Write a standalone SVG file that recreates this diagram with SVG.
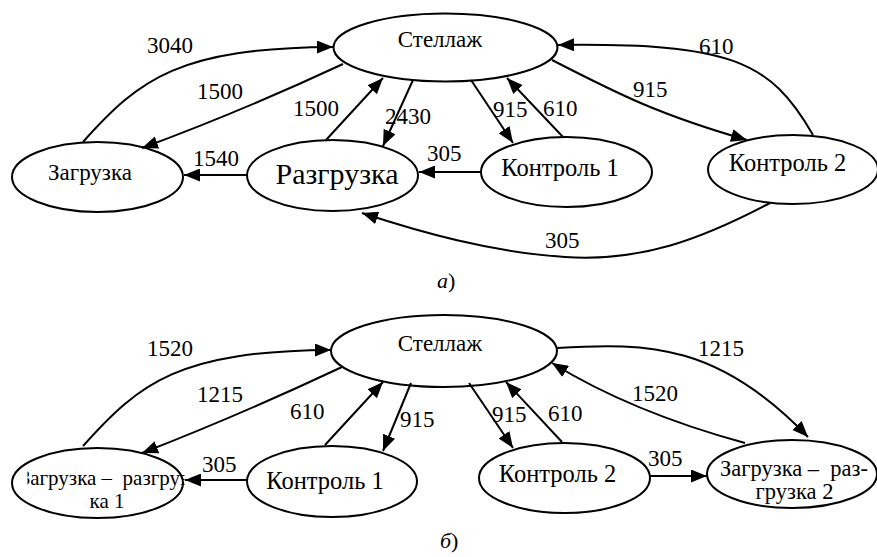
<svg xmlns="http://www.w3.org/2000/svg" width="877" height="557" viewBox="0 0 877 557">
<style>
.n{fill:#fff;stroke:#000;stroke-width:2}
.t{font-family:'Liberation Serif','DejaVu Serif',serif;font-size:23px;fill:#000;text-anchor:middle;white-space:pre}
.k{font-size:24.5px}
.l{font-family:'Liberation Serif','DejaVu Serif',serif;font-size:23px;fill:#000}
.e{fill:none;stroke:#000;stroke-width:2;marker-end:url(#ah)}
.c{font-family:'Liberation Serif','DejaVu Serif',serif;font-size:22px;fill:#000}
</style>
<defs>
<marker id="ah" markerUnits="userSpaceOnUse" markerWidth="17" markerHeight="13" refX="16" refY="6.5" orient="auto">
<path d="M0,0 L16,6.5 L0,13 Z" fill="#000"/>
</marker>
<clipPath id="cl1"><rect x="27.5" y="440" width="157" height="80"/></clipPath>
</defs>
<rect width="877" height="557" fill="#fff"/>

<g id="nodes-a">
<g id="a-stellazh"><ellipse class="n" cx="445.5" cy="47.5" rx="112" ry="34"/><text class="t" x="440" y="47">Стеллаж</text></g>
<g id="a-zagruzka"><ellipse class="n" cx="97.5" cy="177" rx="85.5" ry="35"/><text class="t" x="90" y="180">Загрузка</text></g>
<g id="a-razgruzka"><ellipse class="n" cx="332.5" cy="175.5" rx="85.5" ry="35.5"/><text class="t" x="337" y="184" style="font-size:30px">Разгрузка</text></g>
<g id="a-kontrol1"><ellipse class="n" cx="566.5" cy="172" rx="85.5" ry="35"/><text class="t k" x="560" y="176">Контроль 1</text></g>
<g id="a-kontrol2"><ellipse class="n" cx="793" cy="169.5" rx="85" ry="34.5"/><text class="t k" x="787.5" y="171">Контроль 2</text></g>
</g>

<g id="edges-a">
<path class="e" d="M83,142 C140,78 180,48 333,47"/>
<path class="e" d="M343,64 Q240,112 142,148"/>
<path class="e" d="M326,140 L383,78"/>
<path class="e" d="M413,80 L383,146"/>
<path class="e" d="M247,175 L184,175"/>
<path class="e" d="M481,172 L419,172"/>
<path class="e" d="M471,80 L513,143"/>
<path class="e" d="M563,137 L507,78"/>
<path class="e" d="M552,60 C620,95 660,115 747,140"/>
<path class="e" d="M813,135 C770,60 730,43 558,45"/>
<path class="e" d="M770,203 C700,240 640,262 565,257 C490,252 420,232 362,213"/>
</g>
<g id="labels-a">
<text class="l" x="147" y="53">3040</text>
<text class="l" x="197" y="99">1500</text>
<text class="l" x="293" y="116">1500</text>
<text class="l" x="385" y="124">2430</text>
<text class="l" x="193" y="166">1540</text>
<text class="l" x="427" y="161">305</text>
<text class="l" x="493" y="117">915</text>
<text class="l" x="543" y="116">610</text>
<text class="l" x="633" y="97">915</text>
<text class="l" x="699" y="54">610</text>
<text class="l" x="545" y="248">305</text>
</g>
<text class="c" x="437" y="288"><tspan font-style="italic">а</tspan>)</text>

<g id="nodes-b">
<g id="b-stellazh"><ellipse class="n" cx="444" cy="351" rx="113" ry="36"/><text class="t" x="440" y="351">Стеллаж</text></g>
<g id="b-zr1"><ellipse class="n" cx="97.5" cy="483" rx="85.5" ry="35"/><text class="t" clip-path="url(#cl1)" x="104" y="485" style="font-size:21px" xml:space="preserve">Загрузка –  разгруз</text><text class="t" x="107" y="508" style="font-size:21px">ка 1</text></g>
<g id="b-kontrol1"><ellipse class="n" cx="332" cy="481.5" rx="85" ry="35.5"/><text class="t k" x="325" y="489">Контроль 1</text></g>
<g id="b-kontrol2"><ellipse class="n" cx="564.5" cy="478" rx="85.5" ry="35"/><text class="t k" x="557.5" y="482">Контроль 2</text></g>
<g id="b-zr2"><ellipse class="n" cx="792" cy="474" rx="85" ry="34"/><text class="t" x="794" y="476" style="font-size:22.5px" xml:space="preserve">Загрузка –  раз-</text><text class="t" x="794.5" y="499" style="font-size:22.5px">грузка 2</text></g>
</g>

<g id="edges-b">
<path class="e" d="M83,446 C140,382 180,351 331,350"/>
<path class="e" d="M342,367 Q240,415 142,453"/>
<path class="e" d="M325,445 L383,382"/>
<path class="e" d="M411,383 L383,451"/>
<path class="e" d="M247,480 L185,480"/>
<path class="e" d="M469,383 L513,448"/>
<path class="e" d="M562,442 L506,382"/>
<path class="e" d="M557,348 C650,342 720,345 808,437"/>
<path class="e" d="M745,443 C690,428 620,405 552,363"/>
<path class="e" d="M650,476 L707,476"/>
</g>
<g id="labels-b">
<text class="l" x="147" y="356">1520</text>
<text class="l" x="197" y="402">1215</text>
<text class="l" x="290" y="419">610</text>
<text class="l" x="400" y="427">915</text>
<text class="l" x="202" y="472">305</text>
<text class="l" x="492" y="422">915</text>
<text class="l" x="548" y="421">610</text>
<text class="l" x="698" y="356">1215</text>
<text class="l" x="632" y="401">1520</text>
<text class="l" x="648" y="466">305</text>
</g>
<text class="c" x="440" y="548"><tspan font-style="italic">б</tspan>)</text>
</svg>
